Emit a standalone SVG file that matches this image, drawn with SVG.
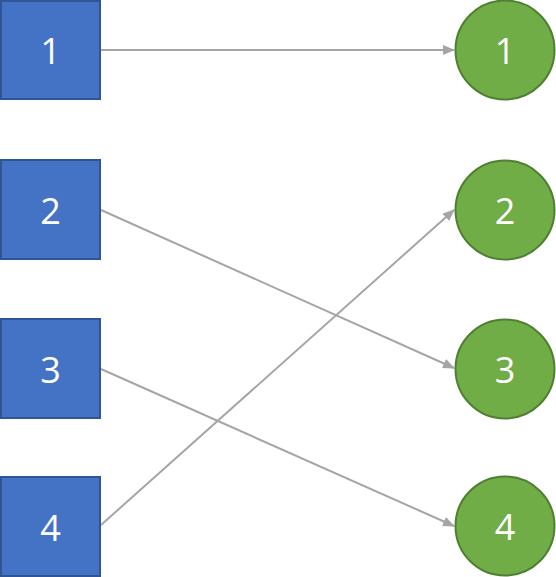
<svg xmlns="http://www.w3.org/2000/svg" width="556" height="577" viewBox="0 0 556 577">
<style>
.sq{fill:#4472C4;stroke:#2F5597;stroke-width:2}
.ci{fill:#70AD47;stroke:#507E32;stroke-width:2}
.t{fill:#fff;font-family:"Open Sans","Noto Sans",sans-serif;font-size:36px;text-anchor:middle;dominant-baseline:central}
.c{stroke:#A5A5A5;stroke-width:2;fill:none;marker-end:url(#ah)}
</style>
<defs>
<marker id="ah" markerWidth="6" markerHeight="5" refX="5.5" refY="2.5" orient="auto" markerUnits="strokeWidth">
<path d="M0,0 L6,2.5 L0,5 Z" fill="#A5A5A5"/>
</marker>
</defs>
<g id="connectors">
<line class="c" x1="101" y1="50" x2="454" y2="50"/>
<line class="c" x1="101" y1="210" x2="454" y2="368"/>
<line class="c" x1="101" y1="369" x2="454" y2="526"/>
<line class="c" x1="101" y1="525" x2="454" y2="210"/>
</g>
<g id="sq1"><rect class="sq" x="1" y="1" width="99" height="98"/><text class="t" x="50.5" y="50">1</text></g>
<g id="sq2"><rect class="sq" x="1" y="160" width="99" height="99"/><text class="t" x="50.5" y="210">2</text></g>
<g id="sq3"><rect class="sq" x="1" y="319" width="99" height="99"/><text class="t" x="50.5" y="369">3</text></g>
<g id="sq4"><rect class="sq" x="1" y="477" width="99" height="99"/><text class="t" x="50.5" y="527">4</text></g>
<g id="ci1"><circle class="ci" cx="505" cy="50" r="49.5"/><text class="t" x="505" y="50">1</text></g>
<g id="ci2"><circle class="ci" cx="505" cy="210" r="49.5"/><text class="t" x="505" y="210">2</text></g>
<g id="ci3"><circle class="ci" cx="505" cy="369" r="49.5"/><text class="t" x="505" y="369">3</text></g>
<g id="ci4"><circle class="ci" cx="505" cy="526" r="49.5"/><text class="t" x="505" y="526">4</text></g>
</svg>
